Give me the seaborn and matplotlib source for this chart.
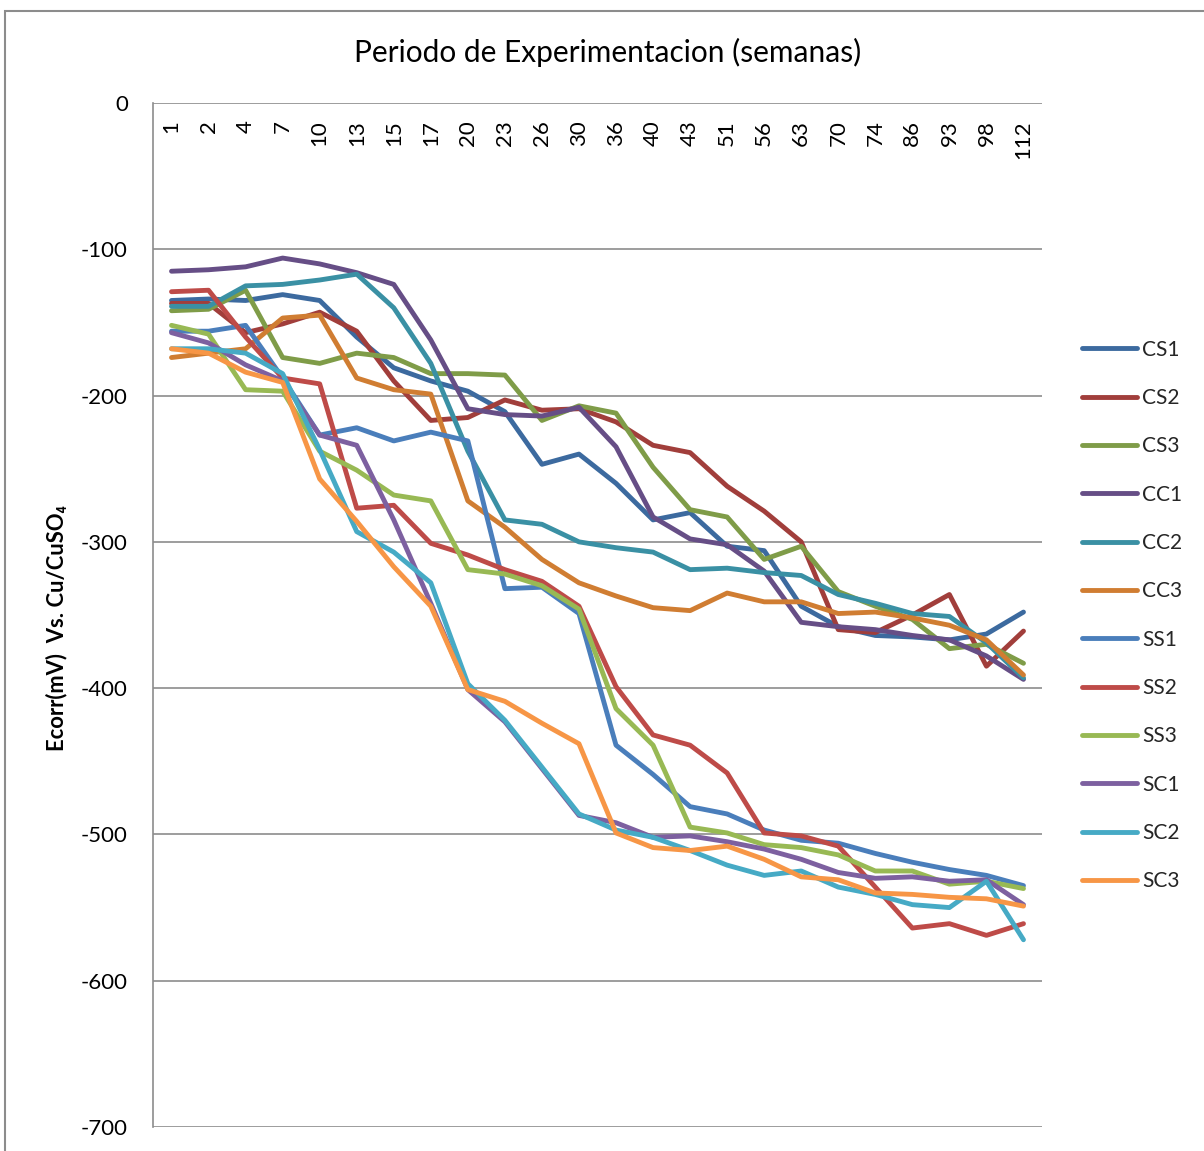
import matplotlib
matplotlib.use("Agg")
import matplotlib.pyplot as plt
from matplotlib.patches import Rectangle
import seaborn as sns
import pandas as pd

# Weeks of exposure (categorical axis)
weeks = [1, 2, 4, 7, 10, 13, 15, 17, 20, 23, 26, 30, 36, 40, 43, 51, 56, 63, 70, 74, 86, 93, 98, 112]

# Corrosion potential Ecorr (mV vs. Cu/CuSO4) per specimen
CS1 = [-135, -134, -135, -131, -135, -160, -181, -190, -197, -211, -247, -240, -260, -285, -280, -303, -306, -344, -358, -364, -365, -367, -363, -348]
CS2 = [-137, -137, -157, -151, -143, -156, -190, -217, -215, -203, -210, -209, -218, -234, -239, -262, -279, -300, -360, -362, -350, -336, -385, -361]
CS3 = [-142, -141, -128, -174, -178, -171, -174, -185, -185, -186, -217, -207, -212, -249, -278, -283, -312, -303, -334, -344, -353, -373, -370, -383]
CC1 = [-115, -114, -112, -106, -110, -116, -124, -162, -209, -213, -214, -208, -235, -283, -298, -302, -320, -355, -358, -360, -364, -367, -378, -394]
CC2 = [-139, -139, -125, -124, -121, -117, -140, -178, -238, -285, -288, -300, -304, -307, -319, -318, -321, -323, -336, -342, -349, -351, -369, -393]
CC3 = [-174, -171, -168, -147, -145, -188, -196, -199, -272, -290, -312, -328, -337, -345, -347, -335, -341, -341, -349, -348, -352, -357, -367, -391]
SS1 = [-156, -156, -152, -188, -227, -222, -231, -225, -231, -332, -331, -349, -439, -459, -481, -486, -497, -504, -506, -513, -519, -524, -528, -535]
SS2 = [-129, -128, -160, -188, -192, -277, -275, -301, -309, -319, -327, -344, -399, -432, -439, -458, -499, -501, -508, -536, -564, -561, -569, -561]
SS3 = [-152, -158, -196, -197, -238, -251, -268, -272, -319, -322, -330, -346, -414, -439, -495, -499, -507, -509, -514, -525, -525, -534, -532, -537]
SC1 = [-157, -164, -179, -190, -227, -234, -285, -342, -401, -423, -455, -487, -492, -502, -501, -505, -510, -517, -526, -530, -529, -532, -531, -548]
SC2 = [-168, -168, -171, -185, -237, -293, -307, -328, -397, -422, -454, -486, -497, -502, -511, -521, -528, -525, -536, -541, -548, -550, -532, -572]
SC3 = [-168, -171, -184, -191, -257, -286, -317, -344, -401, -409, -424, -438, -499, -509, -511, -508, -517, -529, -531, -540, -541, -543, -544, -549]

series_names = ["CS1", "CS2", "CS3", "CC1", "CC2", "CC3", "SS1", "SS2", "SS3", "SC1", "SC2", "SC3"]
series_values = [CS1, CS2, CS3, CC1, CC2, CC3, SS1, SS2, SS3, SC1, SC2, SC3]
colors = ["#3C6A9F", "#A13E3B", "#7F9C48", "#664E86", "#3A90A4", "#D07D32",
          "#4A7EBB", "#BE4B48", "#98B954", "#7D60A0", "#46AAC5", "#F79646"]

rows = []
for name, vals in zip(series_names, series_values):
    for i, (w, v) in enumerate(zip(weeks, vals)):
        rows.append({"pos": i, "semana": w, "Ecorr": v, "serie": name})
df = pd.DataFrame(rows)

sns.set_theme(style="white")
plt.rcParams["font.family"] = ["Lato", "DejaVu Sans"]

W, H = 1204, 1151
fig = plt.figure(figsize=(W / 100, H / 100), dpi=100)
ax = fig.add_axes([153 / W, 1 - 1127 / H, (1042 - 153) / W, (1127 - 103) / H])

sns.lineplot(data=df, x="pos", y="Ecorr", hue="serie", hue_order=series_names,
             palette=dict(zip(series_names, colors)), sort=False, estimator=None,
             linewidth=3.5, ax=ax, legend=True,
             solid_joinstyle="round", solid_capstyle="round")

ax.set_xlim(-0.5, len(weeks) - 0.5)
ax.set_ylim(-700, 0)
ax.set_yticks(range(-700, 1, 100))
ax.set_yticklabels([str(v) for v in range(-700, 1, 100)], fontsize=16, color="#000000")
ax.tick_params(axis="y", length=0, pad=18)
ax.set_xticks([])
ax.set_xlabel("")
ax.set_ylabel("")
ax.grid(axis="y", color="#8C8C8C", linewidth=1.2)
ax.set_axisbelow(True)
for side in ["right", "bottom", "top"]:
    ax.spines[side].set_visible(False)
ax.spines["left"].set_color("#8C8C8C")
ax.spines["left"].set_linewidth(1.2)

# Category labels hang just below the zero line
for i, w in enumerate(weeks):
    ax.text(i, 1 - 17 / 1024, str(w), transform=ax.get_xaxis_transform(),
            rotation=90, ha="center", va="top", fontsize=16, color="#000000")

fig.text(608 / W, 1 - 52 / H, "Periodo de Experimentacion (semanas)",
         ha="center", va="center", fontsize=21.5, color="#000000")
fig.text(57 / W, 1 - 628 / H, "Ecorr(mV)  Vs. Cu/CuSO₄", rotation=90,
         ha="center", va="center", fontsize=15.8, fontweight="bold", color="#000000")

handles, labels = ax.get_legend_handles_labels()
ax.legend(handles, labels, loc="center left",
          bbox_to_anchor=(1082 / W, 1 - 615.5 / H), bbox_transform=fig.transFigure,
          frameon=False, fontsize=15, handlelength=2.64, handletextpad=0.25,
          labelspacing=1.36, borderpad=0, borderaxespad=0)

# Chart area border
fig.add_artist(Rectangle((5 / W, -0.1), 1.2, 1 - 11 / H + 0.1, transform=fig.transFigure,
                         fill=False, edgecolor="#8C8C8C", linewidth=1.5))

fig.savefig("out.png", dpi=100)
